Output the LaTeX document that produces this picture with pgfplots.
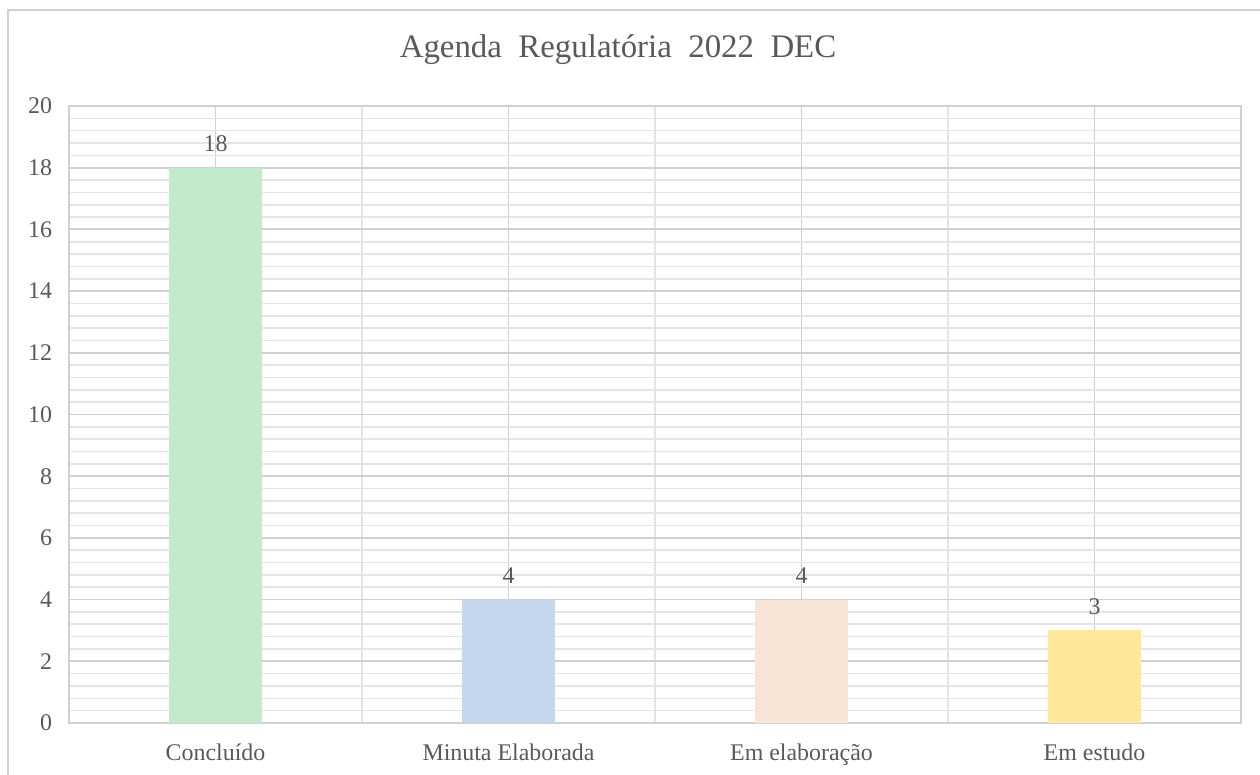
\documentclass[border=0pt]{standalone}
\usepackage{pgfplots}
\pgfplotsset{compat=1.18}
\usepackage{fontspec}
\setmainfont{Liberation Serif}
\definecolor{txt}{HTML}{595959}
\definecolor{majg}{HTML}{D0D0D0}
\definecolor{ming}{HTML}{E4E4E4}
\definecolor{cgreen}{HTML}{C3EACB}
\definecolor{cblue}{HTML}{C5D7EE}
\definecolor{cpeach}{HTML}{F8E5D6}
\definecolor{cyellow}{HTML}{FFE899}
\begin{document}
\begin{tikzpicture}
\path[use as bounding box] (0,0) rectangle (630bp,387.5bp);
\draw[color=majg, line width=1bp] (4bp,0) -- (4bp,382.5bp) -- (630bp,382.5bp);
\node[text=txt, font=\fontsize{16.5}{20}\selectfont, anchor=center] at (309bp,362.5bp) {Agenda\ \ Regulatória\ \ 2022\ \ DEC};
\begin{axis}[
  at={(34.5bp,26bp)}, anchor=south west,
  scale only axis, width=586bp, height=308.5bp,
  xmin=-0.5, xmax=3.5, ymin=0, ymax=20,
  ytick={0,2,...,20}, minor y tick num=4,
  xtick={0,1,2,3},
  xticklabels={Concluído, Minuta Elaborada, Em elaboração, Em estudo},
  minor xtick={0.5,1.5,2.5},
  ymajorgrids, yminorgrids, xmajorgrids, xminorgrids,
  major grid style={draw=majg, line width=0.9bp},
  minor grid style={draw=ming, line width=0.8bp},
  axis line style={draw=majg, line width=0.9bp},
  major tick length=0pt, minor tick length=0pt,
  tick label style={text=txt, font=\fontsize{12}{14}\selectfont},
  xticklabel style={font=\fontsize{12}{14}\selectfont, yshift=-7bp},
  yticklabel style={xshift=-5bp},
  /pgf/number format/assume math mode=true,
  ybar, bar width=46.5bp,
  nodes near coords,
  every node near coord/.append style={text=txt, font=\fontsize{12}{14}\selectfont, yshift=4.5bp},
]
\addplot[fill=cgreen, draw=none, bar shift=0pt] coordinates {(0,18)};
\addplot[fill=cblue, draw=none, bar shift=0pt] coordinates {(1,4)};
\addplot[fill=cpeach, draw=none, bar shift=0pt] coordinates {(2,4)};
\addplot[fill=cyellow, draw=none, bar shift=0pt] coordinates {(3,3)};
\end{axis}
\end{tikzpicture}
\end{document}
